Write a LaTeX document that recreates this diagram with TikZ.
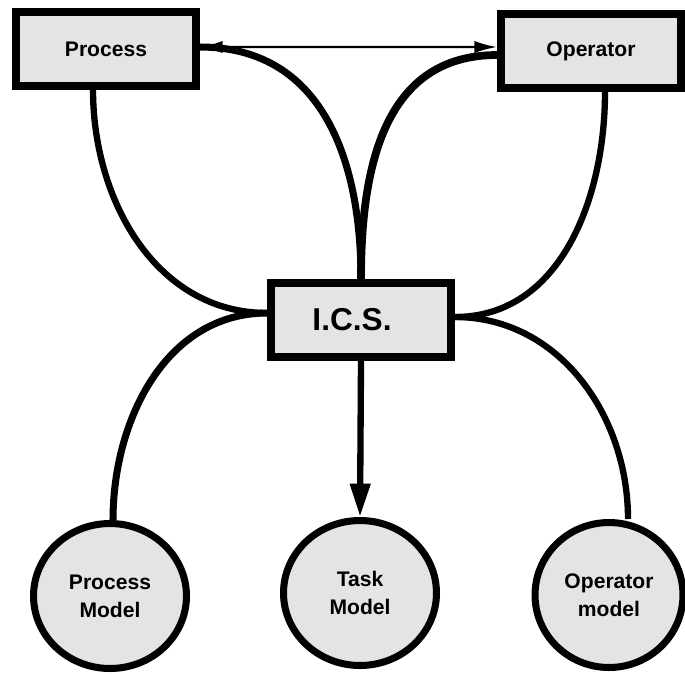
\documentclass[tikz,border=0pt]{standalone}
\usepackage{fontspec}
\setmainfont{Liberation Sans}
\usepackage{tikz}
\usetikzlibrary{shapes.geometric, positioning, arrows.meta}

\definecolor{boxgray}{HTML}{E4E4E4}

\begin{document}
\begin{tikzpicture}[
    x=0.02cm, y=0.02cm,
    blockbox/.style={
        draw, 
        line width=4.4pt,
        fill=boxgray,
        minimum width=3.6cm,
        minimum height=1.48cm,
        font=\bfseries\fontsize{12}{14}\selectfont
    },
    modelnode/.style={
        ellipse,
        draw,
        line width=4pt,
        fill=boxgray,
        inner sep=0pt,
        minimum width=3.06cm,
        minimum height=2.9cm,
        align=center,
        font=\bfseries\fontsize{12}{16}\selectfont
    },
    link/.style={
        line width=3.6pt
    },
    >={Latex[length=13pt, width=7pt]}
]

\useasboundingbox (0,0) rectangle (685,-673);

% ==========================================
% BOXES
% ==========================================
\node[blockbox] (proc) at (106,-49) {Process};
\node[blockbox] (oper) at (591,-51) {Operator};
\node[blockbox, font=\bfseries\fontsize{18}{22}\selectfont] (ics) at (361,-320) {\hspace*{-0.36cm}I.C.S.};

% ==========================================
% MODELS
% ==========================================
\node[modelnode] (pmodel) at (110,-596) {Process\\Model};
\node[modelnode] (tmodel) at (360,-593) {Task\\Model};
\node[modelnode, minimum width=2.96cm] (omodel) at (609,-595) {Operator\\model};

% ==========================================
% CONNECTIONS
% ==========================================
% Upper half
\draw[link] ([xshift=-0.26cm]proc.south) to[out=-90, in=180] ([yshift=0.14cm]ics.west);
\draw[link, line width=4pt] (ics.north) to[out=90, in=0, looseness=1.1] ([yshift=0.04cm]proc.east);
\draw[link, line width=4.4pt] (ics.north) to[out=90, in=180, looseness=1.1] ([yshift=-0.08cm]oper.west);
\draw[link] ([xshift=0.28cm]oper.south) to[out=-90, in=0] ([yshift=0.06cm]ics.east);

% Lower half
\draw[link, line width=4pt] ([yshift=0.14cm]ics.west) to[out=180, in=90] ([xshift=0.06cm]pmodel.north);
\draw[link] ([yshift=0.06cm]ics.east) to[out=0, in=90] ([xshift=0.38cm]omodel.north);
\draw[link, -{Triangle[length=19pt, width=11pt]}] (ics.south) -- (tmodel.north);

% Process <-> Operator
\draw[line width=1.4pt, <->] ([yshift=0.04cm]proc.east) -- ([yshift=0.08cm]oper.west);

\end{tikzpicture}
\end{document}
